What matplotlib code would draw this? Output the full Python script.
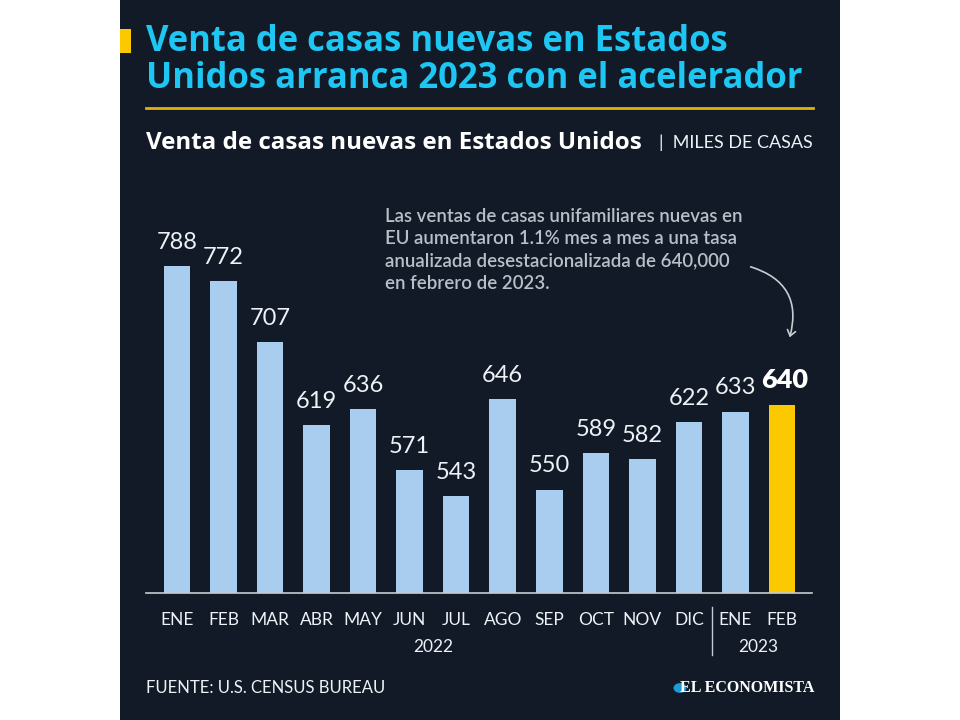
import matplotlib
matplotlib.use("Agg")
import matplotlib.pyplot as plt
from matplotlib.patches import FancyArrowPatch, Rectangle, Circle

plt.rcParams['font.family'] = ['Lato', 'DejaVu Sans']

# data (miles de casas, tasa anualizada)
meses = ["ENE", "FEB", "MAR", "ABR", "MAY", "JUN", "JUL", "AGO", "SEP", "OCT", "NOV", "DIC", "ENE", "FEB"]
ventas = [788, 772, 707, 619, 636, 571, 543, 646, 550, 589, 582, 622, 633, 640]
anios = ["2022", "2023"]
meses_por_anio = [12, 2]

bg = "#121a27"
azul = "#a9cdee"
amarillo = "#fcc800"
cian = "#1ec6f4"
texto = "#eef2f7"

W, H = 960, 720
fig = plt.figure(figsize=(9.6, 7.2), dpi=100)
fig.patch.set_facecolor("white")
renderer = fig.canvas.get_renderer()


def fx(px):
    return px / W


def fy(py):
    return 1 - py / H


def ajustar(t, ancho):
    # scale font so the text spans the same width as in the reference
    w = t.get_window_extent(renderer=renderer).width
    t.set_fontsize(t.get_fontsize() * ancho / w)


# dark panel
fig.patches.append(Rectangle((fx(120), 0), fx(720), 1, transform=fig.transFigure,
                             facecolor=bg, edgecolor="none", zorder=-5))
fig.patches.append(Rectangle((fx(120), fy(53)), fx(11), 24 / H, transform=fig.transFigure,
                             facecolor=amarillo, edgecolor="none", zorder=-4))

# titles
t1 = fig.text(fx(146), fy(42), "Venta de casas nuevas en Estados", color=cian, fontsize=24,
              fontweight="bold", family="Open Sans", va="center", ha="left")
t2 = fig.text(fx(146), fy(79), "Unidos arranca 2023 con el acelerador", color=cian, fontsize=24,
              fontweight="bold", family="Open Sans", va="center", ha="left")
ajustar(t2, 657)
t1.set_fontsize(t2.get_fontsize())
fig.add_artist(plt.Line2D([fx(146), fx(813)], [fy(108), fy(108)], color="#e0b20a", lw=2,
                          transform=fig.transFigure))
st = fig.text(fx(146), fy(143), "Venta de casas nuevas en Estados Unidos", color="white", fontsize=15,
              fontweight="bold", family="Open Sans", va="center", ha="left")
ajustar(st, 496)
fig.text(fx(813), fy(143), "|  MILES DE CASAS", color=texto, fontsize=13,
         fontweight="normal", va="center", ha="right")

# chart
ax = fig.add_axes([fx(146), fy(593), fx(812 - 146), (593 - 200) / H])
ax.set_facecolor("none")
x = list(range(len(ventas)))
colores = [azul] * (len(ventas) - 1) + [amarillo]
ax.bar(x, ventas, width=0.57, color=colores, zorder=2)
ax.set_xlim(-0.666, 13.645)
ax.set_ylim(440, 858)
for i, v in enumerate(ventas):
    if i == len(ventas) - 1:
        ax.text(i + 0.05, v + 14, str(v), ha="center", va="bottom", color="white",
                fontsize=19.5, fontweight="heavy")
    else:
        ax.text(i, v + 14, str(v), ha="center", va="bottom", color=texto,
                fontsize=17, fontweight="normal")

for s in ["top", "right", "left"]:
    ax.spines[s].set_visible(False)
ax.spines["bottom"].set_color("#c8ccd2")
ax.spines["bottom"].set_linewidth(1.2)
ax.set_yticks([])
ax.set_xticks(x)
ax.set_xticklabels(meses, color=texto, fontsize=12.5, fontweight="normal")
ax.tick_params(axis="x", length=0, pad=14)

# years
inicio = 0
for anio, n in zip(anios, meses_por_anio):
    centro = inicio + (n - 1) / 2
    ax.text(centro, -0.138, anio, transform=ax.get_xaxis_transform(), ha="center", va="center",
            color=texto, fontsize=12.5, fontweight="normal")
    inicio += n
ax.plot([11.5, 11.5], [-0.035, -0.158], transform=ax.get_xaxis_transform(), color="#c8ccd2",
        lw=1, clip_on=False)

# annotation
nota = ("Las ventas de casas unifamiliares nuevas en\n"
        "EU aumentaron 1.1% mes a mes a una tasa\n"
        "anualizada desestacionalizada de 640,000\n"
        "en febrero de 2023.")
tn = fig.text(fx(385), fy(208), nota, color="#b9bfc8", fontsize=13, fontweight="semibold",
              va="top", ha="left", linespacing=1.38)
ajustar(tn, 357)
arrow = FancyArrowPatch((fx(748), fy(266)), (fx(789), fy(340)), transform=fig.transFigure,
                        connectionstyle="arc3,rad=-0.5", arrowstyle="->,head_length=4,head_width=3",
                        color="#c8ccd2", lw=1.2)
fig.patches.append(arrow)

# footer
fig.text(fx(146), fy(688), "FUENTE: U.S. CENSUS BUREAU", color=texto, fontsize=12,
         fontweight="normal", va="center", ha="left")
fig.text(fx(814), fy(688), "EL ECONOMISTA", color="white", fontsize=11.5, fontweight="bold",
         family="Liberation Serif", va="center", ha="right")
fig.patches.append(Circle((fx(680), fy(688)), 6.5 / W, transform=fig.transFigure,
                          facecolor="#1e9ad6", edgecolor="none"))

fig.savefig("out.png", dpi=100, facecolor=fig.get_facecolor())
